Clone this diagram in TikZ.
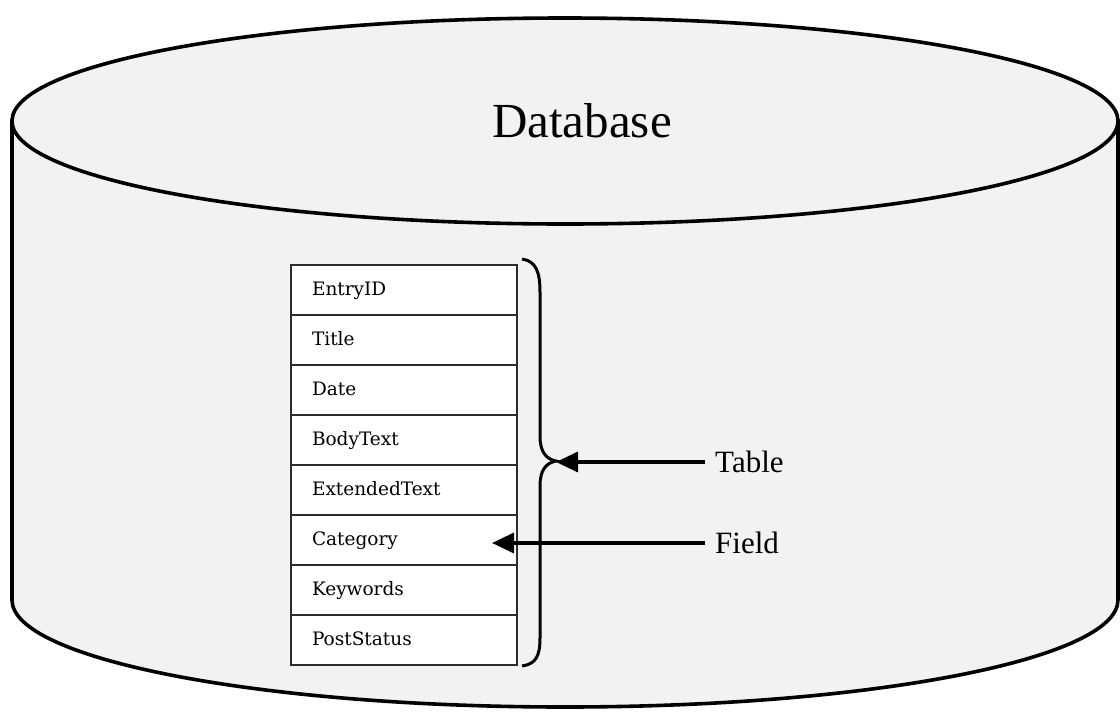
\documentclass[tikz,border=0pt]{standalone}
\usepackage{fontspec}
\setmainfont{Liberation Serif}
\newfontfamily\cellfont{DejaVu Serif}
\usetikzlibrary{arrows.meta}
\definecolor{cylfill}{RGB}{242,242,242}
\definecolor{cellline}{RGB}{45,45,45}
\begin{document}
\begin{tikzpicture}[x=1pt,y=-1pt,
  cyl/.style={draw=black,line width=3.6pt,fill=cylfill},
  cellbox/.style={draw=cellline,line width=2pt,fill=white,minimum width=226pt,minimum height=50pt,
    text width=184pt,inner xsep=21pt,align=left,text height=12pt,text depth=0pt,
    font=\cellfont\fontsize{18.5}{22}\selectfont},
  bracepath/.style={draw=black,line width=3pt},
  arr/.style={draw=black,line width=3.4pt,-{Triangle[length=22pt,width=20pt]}},
  lbl/.style={anchor=west,inner xsep=10pt,inner ysep=0pt,font=\fontsize{31}{36}\selectfont}]
\useasboundingbox (0,0) rectangle (1120,713);
\fill[white] (0,0) rectangle (1120,713);
% cylinder
\filldraw[cyl] (12,121) -- (12,600) arc[start angle=180,end angle=0,x radius=553,y radius=107] -- (1118,121) -- cycle;
\filldraw[cyl] (565,121) ellipse[x radius=553,y radius=103];
\node[font=\fontsize{49}{56}\selectfont] (db) at (582,121) {Database};
% table
\node[cellbox] (c1) at (404,289.5) {EntryID};
\node[cellbox] (c2) at (404,339.5) {Title};
\node[cellbox] (c3) at (404,389.5) {Date};
\node[cellbox] (c4) at (404,439.5) {BodyText};
\node[cellbox] (c5) at (404,489.5) {ExtendedText};
\node[cellbox] (c6) at (404,539.5) {Category};
\node[cellbox] (c7) at (404,589.5) {Keywords};
\node[cellbox] (c8) at (404,639.5) {PostStatus};
% brace
\coordinate (bt) at (556,461);
\draw[bracepath] (522,259) .. controls (536,261) and (540,272) .. (540,292) -- (540,436)
  .. controls (540,452) and (546,459) .. (bt)
  .. controls (546,463) and (540,470) .. (540,486) -- (540,638)
  .. controls (540,656) and (536,664) .. (522,666);
% labels and arrows
\node[lbl] (tbl) at (705,462) {Table};
\node[lbl] (fld) at (705,543) {Field};
\coordinate (ftip) at (492,543);
\draw[arr] (tbl.west) -- (bt |- tbl.west);
\draw[arr] (fld.west) -- (ftip);
\end{tikzpicture}
\end{document}
